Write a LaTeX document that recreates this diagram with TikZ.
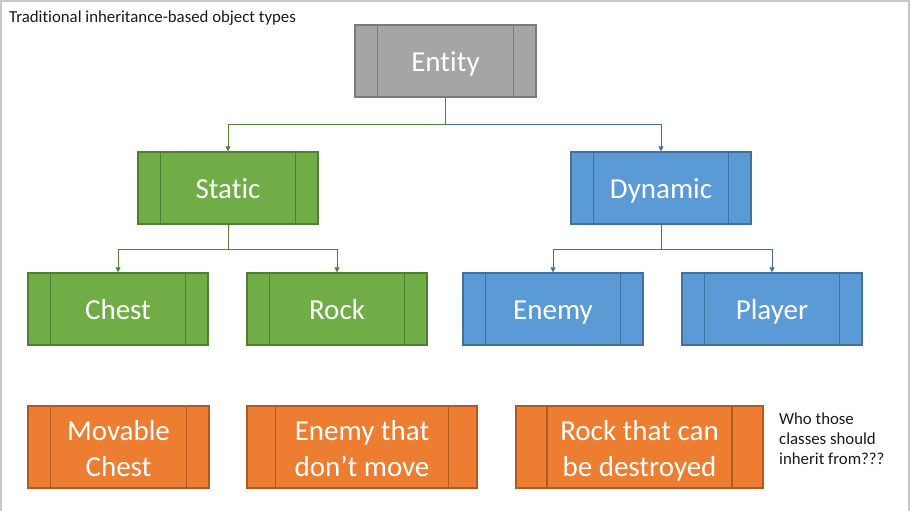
\documentclass[tikz,border=0pt]{standalone}
\usepackage{fontspec}
\setmainfont{Carlito}[Ligatures={NoCommon}]
\usetikzlibrary{arrows.meta,calc}
\definecolor{grayfill}{HTML}{A5A5A5}
\definecolor{graydraw}{HTML}{7A7A7A}
\definecolor{greenfill}{HTML}{70AD47}
\definecolor{greendraw}{HTML}{507E32}
\definecolor{bluefill}{HTML}{5B9BD5}
\definecolor{bluedraw}{HTML}{41719C}
\definecolor{orangefill}{HTML}{ED7D31}
\definecolor{orangedraw}{HTML}{AE5A21}
\definecolor{greenline}{HTML}{548235}
\definecolor{blueline}{HTML}{41719C}
\definecolor{framecol}{HTML}{C8C8C8}
\tikzset{
  procbox/.style 2 args={draw=#2, fill=#1, line width=1.3pt, inner sep=0pt,
    minimum height=72pt, minimum width=180pt, text=white, align=center,
    text height=21pt, text depth=0pt,
    font=\fontsize{29}{36}\selectfont,
    path picture={
      \coordinate (pA) at (path picture bounding box.south west);
      \coordinate (pB) at (path picture bounding box.north east);
      \draw[#2, line width=1.3pt] ($(pA)!0.125!(pA-|pB)$) -- ($(pA|-pB)!0.125!(pB)$);
      \draw[#2, line width=1.3pt] ($(pA)!0.875!(pA-|pB)$) -- ($(pA|-pB)!0.875!(pB)$);
    }},
  graybox/.style={procbox={grayfill}{graydraw}},
  greenbox/.style={procbox={greenfill}{greendraw}},
  bluebox/.style={procbox={bluefill}{bluedraw}},
  orangebox/.style={procbox={orangefill}{orangedraw}, minimum height=82pt, text height=58pt},
  conn/.style={line width=1pt, -{Triangle[length=5pt,width=5pt]}},
  smalltext/.style={font=\fontsize{16.8}{20}\selectfont, text=black!90}
}
\begin{document}
\begin{tikzpicture}[x=1pt,y=-1pt]
\useasboundingbox (0,0) rectangle (911,511);
\draw[framecol, line width=1.5pt] (1,511) -- (1,1) -- (909,1) -- (909,511);

\node[smalltext, anchor=base west, inner sep=0pt] (title) at (9,23) {Traditional inheritance-based object types};

\node[graybox, minimum width=181pt] (entity) at (445.5,61) {Entity};
\node[greenbox] (static) at (228,188) {Static};
\node[bluebox] (dynamic) at (661,188) {Dynamic};
\node[greenbox] (chest) at (118,309) {Chest};
\node[greenbox] (rock) at (337,309) {Rock};
\node[bluebox] (enemy) at (553,309) {Enemy};
\node[bluebox] (player) at (772,309) {Player};

\node[orangebox, minimum width=181pt] (movable) at (118.5,447) {Movable\\Chest};
\node[orangebox, minimum width=230pt] (enemynm) at (362,447) {Enemy that\\don’t move};
\node[orangebox, minimum width=247pt] (rockdes) at (639.5,447) {Rock that can\\be destroyed};

\node[smalltext, anchor=north west, align=left, inner sep=0pt] (note) at (779,413) {Who those\\classes should\\inherit from???};

\draw[conn, blueline] (entity.south) -- (entity.south |- 0,124) -| (dynamic.north);
\draw[conn, greenline] (entity.south) -- (entity.south |- 0,124) -| (static.north);
\draw[conn, greenline] (static.south) -- (static.south |- 0,249) -| (chest.north);
\draw[conn, greenline] (static.south) -- (static.south |- 0,249) -| (rock.north);
\draw[conn, blueline] (dynamic.south) -- (dynamic.south |- 0,249) -| (enemy.north);
\draw[conn, blueline] (dynamic.south) -- (dynamic.south |- 0,249) -| (player.north);
\end{tikzpicture}
\end{document}
